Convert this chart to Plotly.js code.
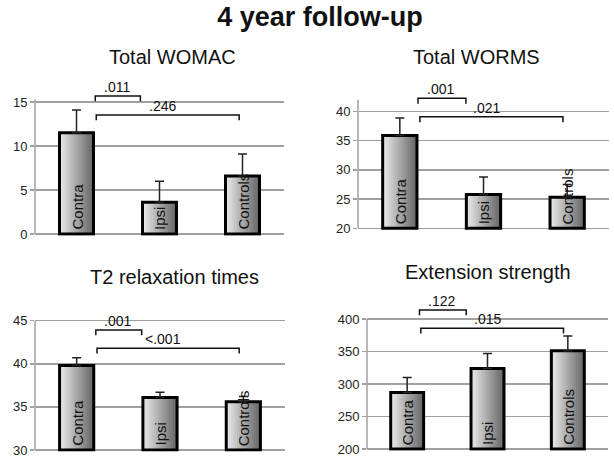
<!DOCTYPE html>
<html>
<head>
<meta charset="utf-8">
<script src="https://cdn.plot.ly/plotly-3.0.1.min.js"></script>
<style>html,body{margin:0;padding:0;background:#fff;}#chart{width:614px;height:463px;}</style>
</head>
<body>
<div id="chart"></div>
<script>
// ---------- data ----------
const categories = ['Contra', 'Ipsi', 'Controls'];
const mainTitle = '4 year follow-up';
const panelTitles = ['Total WOMAC', 'Total WORMS', 'T2 relaxation times', 'Extension strength'];

const womacMean = [11.5, 3.6, 6.6];
const womacErr  = [2.6, 2.4, 2.5];
const womacP    = ['.011', '.246'];
const womacBracketY = [15.68, 13.52];

const wormsMean = [35.9, 25.8, 25.3];
const wormsErr  = [3.0, 3.0, 2.2];
const wormsP    = ['.001', '.021'];
const wormsBracketY = [42.26, 39.1];

const t2Mean = [39.8, 36.1, 35.6];
const t2Err  = [0.9, 0.6, 0.6];
const t2P    = ['.001', '<.001'];
const t2BracketY = [43.92, 41.8];

const extMean = [287, 324, 351];
const extErr  = [23, 23, 23];
const extP    = ['.122', '.015'];
const extBracketY = [413.8, 385.7];

// comparisons: [from category index, to category index]
const comparisons = [[0, 1], [0, 2]];

// ---------- styles / layout config ----------
const FONT = 'Liberation Sans, Arial, Helvetica, sans-serif';
const GRID = '#a0a0a0';
const W = 0.41;            // bar width (category units)
const NSTEP = 16;          // gradient steps
const LIGHT = [232, 232, 232], DARK = [104, 104, 104];

const panels = [
  {mean: womacMean, err: womacErr, p: womacP, by: womacBracketY, title: panelTitles[0],
   xd: [35, 284], base: 0, top: 16, dtick: 5, axisTop: 15.3, drop: 0.6, bottomPx: 234, pxPer: 8.8,
   ins: [[0.226, 0.23], [0.238, 0.04]], tpos: [172, 57]},
  {mean: wormsMean, err: wormsErr, p: wormsP, by: wormsBracketY, title: panelTitles[1],
   xd: [358, 609], base: 20, top: 43, dtick: 5, axisTop: 42, drop: 0.95, bottomPx: 228.3, pxPer: 5.84,
   ins: [[0.217, 0.21], [0.24, 0.05]], tpos: [476.7, 56.7]},
  {mean: t2Mean, err: t2Err, p: t2P, by: t2BracketY, title: panelTitles[2],
   xd: [35, 285], base: 30, top: 45.5, dtick: 5, axisTop: 45, drop: 0.6, bottomPx: 450, pxPer: 8.62,
   ins: [[0.23, 0.22], [0.244, 0.05]], tpos: [174, 276.7]},
  {mean: extMean, err: extErr, p: extP, by: extBracketY, title: panelTitles[3],
   xd: [367, 608], base: 200, top: 420, dtick: 50, axisTop: 400, drop: 8, bottomPx: 449, pxPer: 0.65,
   ins: [[0.153, 0.265], [0.17, 0.054]], tpos: [488, 271.7]}
];

const PW = 614, PH = 463;
function mix(t) {
  const c = LIGHT.map((l, i) => Math.round(DARK[i] + (l - DARK[i]) * t));
  return 'rgb(' + c.join(',') + ')';
}

const traces = [];
const shapes = [];
const annotations = [];
const layout = {
  width: PW, height: PH,
  margin: {l: 0, r: 0, t: 0, b: 0},
  paper_bgcolor: '#fff', plot_bgcolor: '#fff',
  showlegend: false,
  barmode: 'overlay',
  font: {family: FONT, color: '#111'},
  title: {text: '<b>' + mainTitle + '</b>', x: 320 / PW, xanchor: 'center', y: 1 - 17 / PH, yanchor: 'middle',
          font: {family: FONT, size: 27, color: '#111'}},
  shapes: shapes, annotations: annotations
};

panels.forEach((P, pi) => {
  const n = pi + 1;
  const xa = 'x' + (n === 1 ? '' : n), ya = 'y' + (n === 1 ? '' : n);
  const xKey = 'xaxis' + (n === 1 ? '' : n), yKey = 'yaxis' + (n === 1 ? '' : n);
  const span = P.top - P.base;
  const rMin = P.base - span * 0.012;
  const heightPx = span * P.pxPer;
  const bottomPx = P.bottomPx + span * 0.012 * P.pxPer;
  const topPx = P.bottomPx - heightPx;

  layout[xKey] = {
    domain: [P.xd[0] / PW, P.xd[1] / PW], anchor: ya, type: 'category',
    categoryorder: 'array', categoryarray: categories,
    range: [-0.5, 2.5], showticklabels: false, showgrid: false, zeroline: false, showline: false, ticks: ''
  };
  layout[yKey] = {
    domain: [(PH - bottomPx) / PH, (PH - topPx) / PH], anchor: xa,
    range: [rMin, P.top], dtick: P.dtick, tick0: P.base,
    showgrid: true, gridcolor: GRID, gridwidth: 1.5, zeroline: false, showline: false,
    ticks: 'outside', ticklen: 4, tickcolor: GRID, tickwidth: 1.5,
    tickfont: {family: FONT, size: 13, color: '#222'}
  };

  const heights = P.mean.map(v => v - P.base);
  // gradient layers (left light -> right dark)
  for (let k = 0; k < NSTEP; k++) {
    traces.push({
      type: 'bar', x: categories, y: heights, base: P.base,
      width: W * (NSTEP - k) / NSTEP, offset: -W / 2,
      marker: {color: mix(k / (NSTEP - 1)), line: {width: 0}},
      xaxis: xa, yaxis: ya, hoverinfo: 'skip'
    });
  }
  // outline + error bars
  traces.push({
    type: 'bar', x: categories, y: heights, base: P.base, width: W, offset: -W / 2,
    marker: {color: 'rgba(0,0,0,0)', line: {color: '#000', width: 3}},
    error_y: {type: 'data', symmetric: false, array: P.err, arrayminus: P.err.map(() => 0),
              color: '#222', thickness: 1.5, width: 4.5},
    xaxis: xa, yaxis: ya, hoverinfo: 'skip'
  });

  // vertical axis line
  shapes.push({type: 'line', xref: xa + ' domain', yref: ya, x0: 0, x1: 0, y0: P.base, y1: P.axisTop,
               line: {color: GRID, width: 1.5}, layer: 'below'});

  // bar labels
  categories.forEach((c, i) => {
    annotations.push({xref: xa, yref: ya, x: c, y: P.base, text: c, showarrow: false,
      textangle: -90, xanchor: 'center', yanchor: 'bottom', yshift: 2,
      font: {family: FONT, size: 15, color: '#111'}});
  });

  // significance brackets
  comparisons.forEach((cmp, j) => {
    const x0 = cmp[0] + P.ins[j][0], x1 = cmp[1] - P.ins[j][1];
    const yT = P.by[j], yB = P.by[j] - P.drop;
    shapes.push({type: 'path', xref: xa, yref: ya,
      path: 'M' + x0 + ',' + yB + ' L' + x0 + ',' + yT + ' L' + x1 + ',' + yT + ' L' + x1 + ',' + yB,
      line: {color: '#111', width: 1.5}});
    annotations.push({xref: xa, yref: ya, x: (x0 + x1) / 2, y: yT, text: P.p[j], showarrow: false,
      xanchor: 'center', yanchor: 'bottom', yshift: -1, xshift: j === 1 ? -5 : -1,
      font: {family: FONT, size: 14, color: '#111'}});
  });

  // panel title
  annotations.push({xref: 'paper', yref: 'paper', x: P.tpos[0] / PW, y: 1 - P.tpos[1] / PH,
    text: P.title, showarrow: false, xanchor: 'center', yanchor: 'middle',
    font: {family: FONT, size: 20, color: '#111'}});
});

Plotly.newPlot('chart', traces, layout, {staticPlot: true, displayModeBar: false});
</script>
</body>
</html>
